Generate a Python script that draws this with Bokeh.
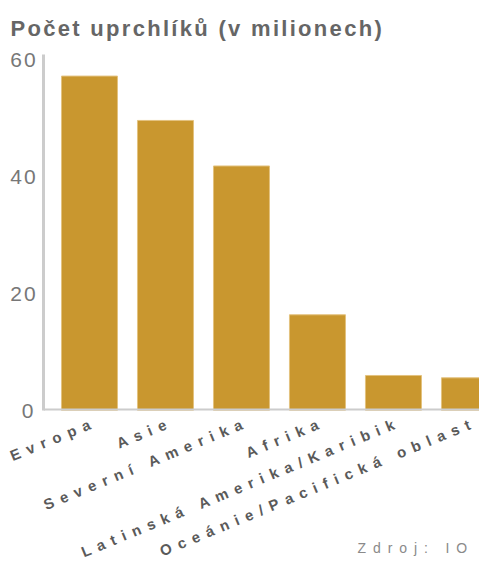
from bokeh.plotting import figure
from bokeh.models import Range1d, FixedTicker, ColumnDataSource, Span, Label, HTMLLabelSet
from bokeh.layouts import column
from bokeh.embed import file_html
from bokeh.resources import INLINE
from bokeh.core.properties import value

# ---- data ----
categories = ["Evropa", "Asie", "Severní Amerika", "Afrika",
              "Latinská Amerika/Karibik", "Oceánie/Pacifická oblast"]
refugees = [57.3, 49.7, 41.9, 16.4, 6.0, 5.6]
y_ticks = [0, 20, 40, 60]
title_text = "Počet uprchlíků (v milionech)"
source_text = "Zdroj: IO"

positions = list(range(len(categories)))
BAR = "#C9972F"
GREY_LINE = "#cccccc"

x_range = Range1d(-0.605, 5.132)

p = figure(width=479, height=424, x_range=x_range, y_range=Range1d(0, 61),
           output_backend="svg", toolbar_location=None, x_axis_location=None,
           min_border_left=43, min_border_right=0, min_border_top=54,
           min_border_bottom=14)
p.title.text = title_text
p.title.text_font = "Liberation Sans"
p.title.text_font_style = "bold"
p.title.text_font_size = "22px"
p.title.text_color = "#666666"
p.title.align = "left"
p.title.offset = -33
p.title.standoff = 27
p.outline_line_color = None
p.xgrid.visible = False
p.ygrid.visible = False

p.vbar(x=positions, top=refugees, bottom=0, width=0.737,
       fill_color=BAR, line_color="#e3c27f", line_width=1)

p.yaxis.ticker = FixedTicker(ticks=y_ticks)
p.yaxis.axis_line_color = GREY_LINE
p.yaxis.axis_line_width = 3
p.yaxis.major_tick_line_color = None
p.yaxis.minor_tick_line_color = None
p.yaxis.major_label_text_font = "Liberation Sans"
p.yaxis.major_label_text_font_size = "21px"
p.yaxis.major_label_text_color = "#777777"
p.yaxis.major_label_standoff = 4

p.add_layout(Span(location=0, dimension="width", line_color=GREY_LINE, line_width=4))
p.styles = {"letter-spacing": "2.3px"}

q = figure(width=479, height=149, x_range=x_range, y_range=Range1d(-149, 0),
           output_backend="svg", toolbar_location=None,
           x_axis_location=None, y_axis_location=None,
           min_border_left=43, min_border_right=0, min_border_top=0,
           min_border_bottom=0)
q.margin = (-14, 0, 0, 0)
q.background_fill_color = None
q.border_fill_color = None
q.outline_line_color = None
q.xgrid.visible = False
q.ygrid.visible = False

src = ColumnDataSource(dict(x=positions, text=categories))
q.add_layout(HTMLLabelSet(x="x", y=-11, text="text", source=src, angle=0.392,
                          text_align="right", text_baseline="middle",
                          x_offset=7,
                          text_font=value("Liberation Sans"),
                          text_font_style="bold",
                          text_font_size="15px", text_color="#5a5a5a"))

q.add_layout(Label(x=314, y=4, x_units="screen", y_units="screen",
                   text=source_text, text_font="Liberation Sans",
                   text_font_size="14px", text_color="#8a8a8a"))
q.styles = {"letter-spacing": "6.9px"}

layout = column(p, q, spacing=0)
open("out.html", "w").write(file_html(layout, INLINE))
